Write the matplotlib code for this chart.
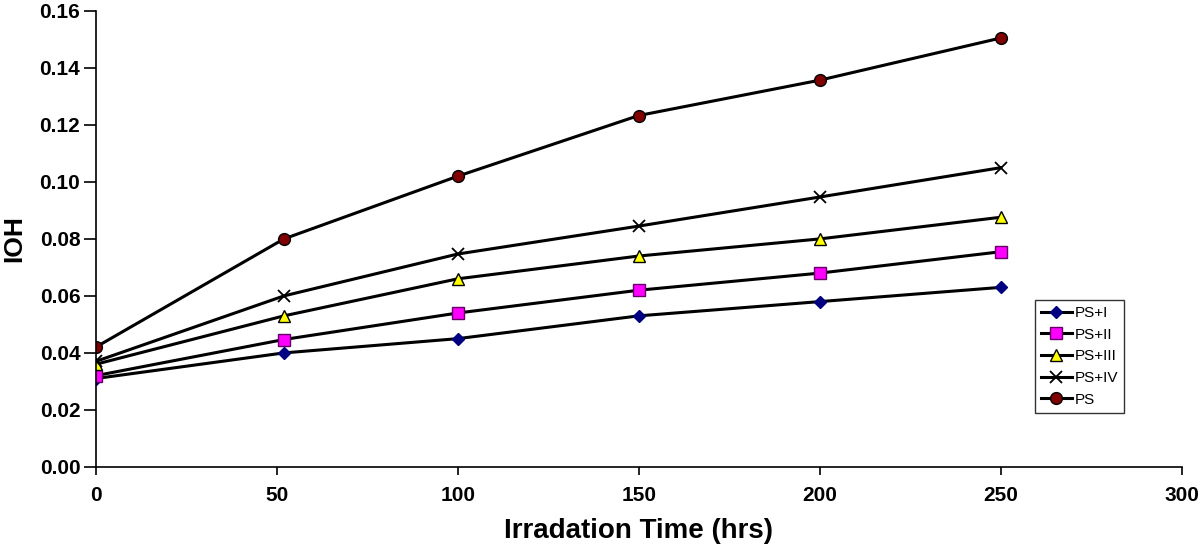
import matplotlib
matplotlib.use("Agg")
import matplotlib.pyplot as plt

# data
hours = [0, 52, 100, 150, 200, 250]
ps_i = [0.031, 0.040, 0.045, 0.053, 0.058, 0.063]
ps_ii = [0.032, 0.0447, 0.054, 0.062, 0.068, 0.0755]
ps_iii = [0.036, 0.053, 0.066, 0.074, 0.080, 0.0876]
ps_iv = [0.037, 0.060, 0.0747, 0.0845, 0.0947, 0.105]
ps = [0.042, 0.080, 0.102, 0.1233, 0.1357, 0.1505]

plt.rcParams["font.family"] = ["Liberation Sans", "DejaVu Sans"]

fig = plt.figure(figsize=(12, 5.48), dpi=100)
ax = fig.add_axes([0.0797, 0.148, 0.905, 0.832])

ax.plot(hours, ps_i, color="black", lw=2.2, marker="D", ms=6.5,
        mfc="#000080", mec="#000080", label="PS+I")
ax.plot(hours, ps_ii, color="black", lw=2.2, marker="s", ms=8.5,
        mfc="#ff00ff", mec="#660066", label="PS+II")
ax.plot(hours, ps_iii, color="black", lw=2.2, marker="^", ms=9,
        mfc="#ffff00", mec="black", label="PS+III")
ax.plot(hours, ps_iv, color="black", lw=2.2, marker="x", ms=8.5,
        mew=1.3, mec="black", label="PS+IV")
ax.plot(hours, ps, color="black", lw=2.2, marker="o", ms=8.5,
        mfc="#800000", mec="black", label="PS")

ax.set_xlim(0, 300)
ax.set_ylim(0, 0.16)
ax.set_xticks(range(0, 301, 50))
ax.set_yticks([i * 0.02 for i in range(9)])
ax.set_yticklabels([f"{i * 0.02:.2f}" for i in range(9)])

ax.spines["top"].set_visible(False)
ax.spines["right"].set_visible(False)
ax.spines["left"].set_linewidth(1.2)
ax.spines["bottom"].set_linewidth(1.2)
ax.tick_params(direction="out", width=1.2, labelsize=15)
ax.tick_params(axis="x", length=6, pad=8)
ax.tick_params(axis="y", length=9, pad=2)
for lbl in ax.get_xticklabels() + ax.get_yticklabels():
    lbl.set_fontweight("bold")

ax.set_xlabel("Irradation Time (hrs)", fontsize=20, fontweight="bold")
ax.set_ylabel("IOH", fontsize=19, fontweight="bold")
ax.xaxis.set_label_coords(0.5, -0.112)
ax.yaxis.set_label_coords(-0.064, 0.5)

leg = ax.legend(loc="lower left", bbox_to_anchor=(0.865, 0.119), fontsize=11,
                frameon=True, fancybox=False, edgecolor="black",
                handlelength=2.0, borderpad=0.4, labelspacing=0.5,
                handletextpad=0.2, borderaxespad=0)
leg.get_frame().set_linewidth(1.0)

fig.savefig("out.png", dpi=100)
